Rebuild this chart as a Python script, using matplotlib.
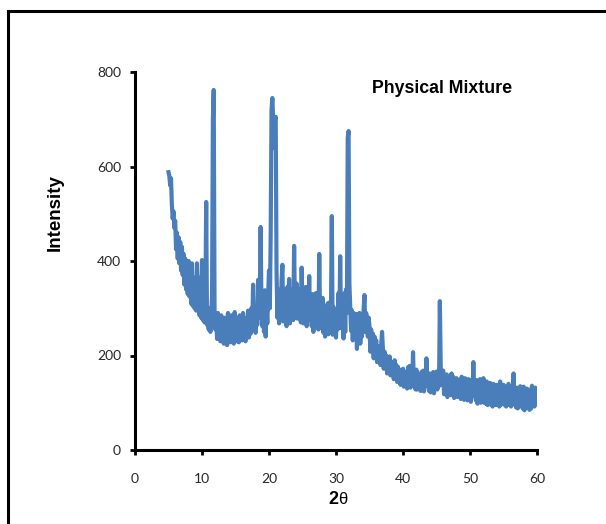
import numpy as np
import matplotlib
matplotlib.use("Agg")
import matplotlib.pyplot as plt
from matplotlib.lines import Line2D

# ---- data, 2-theta grid from 5 to 60 step 0.125 ----
theta_start = 5.0
theta_step = 0.125
intensity = [
    588, 580, 560, 575, 520, 490, 505, 470,   # 5
    485, 425, 460, 405, 450, 395, 440, 380,   # 6
    430, 370, 415, 350, 405, 340, 390, 330,   # 7
    400, 325, 385, 310, 395, 305, 365, 300,   # 8
    360, 295, 395, 300, 365, 285, 350, 280,   # 9
    402, 275, 360, 270, 300, 525, 265, 290,   # 10
    255, 300, 250, 285, 330, 700, 762, 290,   # 11
    255, 280, 235, 290, 240, 275, 230, 285,   # 12
    245, 270, 225, 280, 235, 265, 222, 290,   # 13
    240, 275, 228, 285, 232, 262, 225, 292,   # 14
    238, 280, 230, 270, 228, 285, 240, 275,   # 15
    232, 290, 236, 268, 230, 280, 242, 295,   # 16
    238, 282, 246, 300, 255, 350, 262, 290,   # 17
    248, 300, 265, 360, 280, 320, 472, 300,   # 18
    262, 320, 250, 338, 240, 300, 268, 330,   # 19
    380, 300, 452, 720, 745, 700, 640, 700,   # 20
    705, 380, 280, 340, 268, 330, 275, 360,   # 21
    392, 272, 340, 288, 330, 262, 345, 280,   # 22
    362, 268, 328, 290, 340, 275, 432, 300,   # 23
    298, 352, 278, 322, 290, 340, 270, 386,   # 24
    300, 268, 332, 288, 345, 262, 320, 280,   # 25
    368, 276, 322, 262, 330, 250, 310, 268,   # 26
    332, 278, 300, 255, 415, 270, 320, 258,   # 27
    322, 248, 302, 240, 295, 250, 310, 245,   # 28
    312, 260, 300, 495, 244, 302, 250, 290,   # 29
    238, 300, 255, 332, 260, 410, 258, 290,   # 30
    302, 236, 332, 250, 340, 290, 660, 675,   # 31
    352, 300, 252, 296, 232, 290, 240, 275,   # 32
    288, 214, 276, 230, 290, 225, 280, 240,   # 33
    270, 300, 328, 250, 290, 272, 240, 280,   # 34
    262, 208, 255, 220, 246, 194, 240, 200,   # 35
    232, 186, 220, 190, 214, 180, 225, 250,   # 36
    215, 172, 208, 180, 200, 162, 190, 170,   # 37
    198, 158, 186, 165, 180, 150, 190, 155,   # 38
    180, 144, 176, 150, 170, 138, 165, 145,   # 39
    172, 134, 166, 146, 160, 130, 175, 140,   # 40
    178, 132, 165, 145, 207, 140, 160, 128,   # 41
    170, 128, 162, 138, 155, 125, 165, 135,   # 42
    168, 124, 160, 135, 194, 136, 150, 125,   # 43
    162, 122, 156, 132, 165, 120, 158, 130,   # 44
    166, 128, 160, 135, 315, 180, 138, 160,   # 45
    168, 118, 152, 125, 160, 112, 150, 120,   # 46
    158, 116, 162, 122, 155, 110, 150, 125,   # 47
    152, 112, 148, 118, 145, 108, 155, 115,   # 48
    146, 106, 152, 112, 140, 105, 150, 110,   # 49
    148, 102, 145, 115, 186, 116, 140, 105,   # 50
    148, 98, 142, 106, 150, 100, 138, 110,    # 51
    152, 100, 138, 98, 145, 95, 135, 105,     # 52
    142, 96, 134, 92, 140, 100, 130, 95,      # 53
    138, 98, 132, 92, 145, 96, 128, 100,      # 54
    138, 96, 128, 92, 135, 95, 140, 98,       # 55
    134, 92, 130, 100, 162, 96, 130, 90,      # 56
    132, 88, 128, 92, 135, 95, 125, 88,       # 57
    134, 84, 124, 92, 130, 90, 120, 85,       # 58
    128, 88, 136, 98, 125, 92, 132, 100,      # 59
    118,                                      # 60
]
two_theta = theta_start + theta_step * np.arange(len(intensity))

x_ticks = [0, 10, 20, 30, 40, 50, 60]
y_ticks = [0, 200, 400, 600, 800]
title_text = "Physical Mixture"
y_label = "Intensity"

# ---- figure ----
W, H = 606, 524
fig = plt.figure(figsize=(W / 100, H / 100), dpi=100)
ax = fig.add_axes([135 / W, 74 / H, (537 - 135) / W, (450 - 72) / H])

ax.plot(two_theta, intensity, color="#4A7EBB", lw=3.0, solid_joinstyle="round")

ax.set_xlim(0, 60)
ax.set_ylim(0, 800)
ax.set_xticks(x_ticks)
ax.set_yticks(y_ticks)

for s in ["top", "right"]:
    ax.spines[s].set_visible(False)
for s in ["left", "bottom"]:
    ax.spines[s].set_linewidth(2.2)
    ax.spines[s].set_color("black")

ax.tick_params(axis="both", direction="out", length=3.5, width=2, color="black",
               labelcolor="#262626")
ax.tick_params(axis="x", pad=13)
ax.tick_params(axis="y", pad=6.5)
for lab in ax.get_xticklabels() + ax.get_yticklabels():
    lab.set_fontfamily("Lato")
    lab.set_fontsize(10)

# y label
fig.text(55 / W, 1 - 213 / H, y_label, rotation=90, ha="center", va="center",
         fontsize=13.5, fontweight="bold", family="Liberation Sans")
# x label: bold "2" followed by regular upright theta
fig.text(338.5 / W, 1 - 500 / H, "2", ha="right", va="center",
         fontsize=13, fontweight="bold", family="Liberation Sans")
fig.text(338.5 / W, 1 - 500 / H, "θ", ha="left", va="center",
         fontsize=12, family="Liberation Sans")
# title inside the plot
fig.text(442 / W, 1 - 88 / H, title_text, ha="center", va="center",
         fontsize=12.8, fontweight="bold", family="Liberation Sans")

# frame lines (top and left visible)
fig.add_artist(Line2D([7.5 / W, 1.0], [1 - 10.5 / H, 1 - 10.5 / H],
                      color="black", lw=2.2, transform=fig.transFigure))
fig.add_artist(Line2D([7.5 / W, 7.5 / W], [1 - 10.5 / H, 0],
                      color="black", lw=2.2, transform=fig.transFigure))

fig.savefig("out.png", dpi=100)
